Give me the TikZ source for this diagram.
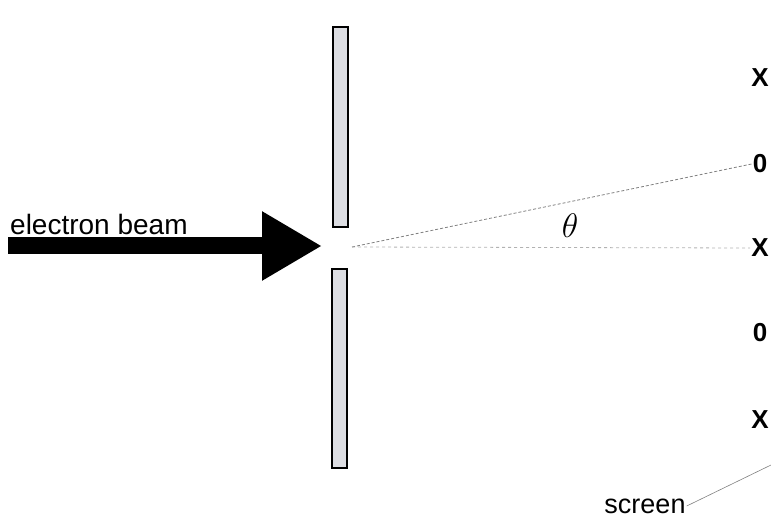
\RequirePackage{fix-cm}
\documentclass[tikz,border=0pt]{standalone}
\usepackage{fontspec}
\setmainfont{Liberation Sans}
\usetikzlibrary{arrows.meta}
\definecolor{slitgray}{RGB}{220,221,226}

\begin{document}
\begin{tikzpicture}[x=1pt,y=1pt,
    spot/.style={font=\fontsize{26}{28}\selectfont\bfseries,inner sep=1pt},
    ray/.style={gray,densely dashed,line width=0.8pt}]
\useasboundingbox (0,0) rectangle (771,520);
% slits
\draw[fill=slitgray,line width=1.5pt] (333,293) rectangle (348,493);
\draw[fill=slitgray,line width=1.5pt] (332,52) rectangle (347,251);
% beam
\draw[line width=17pt,-{Triangle[length=60pt,width=65pt]}] (8,274) -- (322,274);
\node[anchor=base west,font=\fontsize{28}{30}\selectfont,inner sep=0pt] (beam) at (10,285) {electron beam};
% screen marks
\node[spot] (x1) at (760,442) {X};
\node[spot] (o1) at (760,356) {0};
\node[spot] (x2) at (760,272) {X};
\node[spot] (o2) at (760,187) {0};
\node[spot] (x3) at (760,100) {X};
\coordinate (src) at (352,273);
\path[ray]
(src) edge (o1.west)
(src) edge[gray!60,dashed] (x2.west);
\node[font=\fontsize{34}{36}\selectfont] (theta) at (570,294) {$\theta$};
% screen label
\node[font=\fontsize{27}{29}\selectfont,inner sep=1pt] (scr) at (645,14) {screen};
\coordinate (scrend) at (771,55);
\draw[gray,line width=0.6pt] (scr.east) -- (scrend);
\end{tikzpicture}
\end{document}
